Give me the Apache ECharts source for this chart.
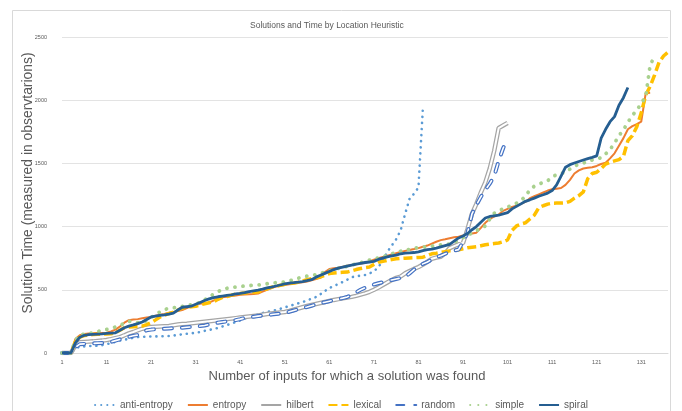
<!DOCTYPE html>
<html>
<head>
<meta charset="utf-8">
<script src="https://cdn.jsdelivr.net/npm/echarts/dist/echarts.min.js"></script>
<style>
html,body{margin:0;padding:0;background:#fff;}
#chart{width:682px;height:411px;}
</style>
</head>
<body>
<div id="chart"></div>
<script>
const categories = Array.from({length: 137}, (_, i) => String(i + 1));
const yTicks = [0, 500, 1000, 1500, 2000, 2500];

const antiEntropy = [0,0,0,35,50,52,55,55,58,62,
70,78,88,98,105,112,120,126,128,130,
130,131,132,133,135,138,142,148,152,156,
160,166,175,182,190,198,210,221,232,245,
258,272,285,295,306,316,324,332,340,350,
361,372,382,393,403,416,430,443,465,490,
514,530,546,562,580,600,607,612,617,630,
645,680,730,800,850,900,970,1100,1220,1260,
1310,1945];

const hilbert = [0,0,0,60,85,88,90,92,95,98,
103,110,118,126,140,155,166,180,192,200,
205,208,210,212,214,220,225,229,232,236,
240,244,248,252,256,260,264,268,272,276,
280,284,288,292,296,302,308,312,316,320,
324,332,342,352,362,372,380,388,396,404,
412,420,426,432,438,444,452,462,472,484,
500,518,538,558,578,594,605,630,648,665,
680,700,722,745,755,762,790,830,845,860,
870,980,1100,1180,1270,1350,1460,1600,1780,1800,1820];

const random = [0,0,0,45,70,72,74,76,78,79,
80,88,98,108,118,128,136,142,160,180,
185,188,190,192,194,196,198,200,204,207,
210,213,218,225,232,240,245,250,255,260,
268,277,282,287,292,297,300,304,308,312,
316,326,336,346,356,364,374,384,394,402,
410,418,426,434,443,460,480,500,516,530,
542,552,560,570,578,586,593,602,630,660,
690,705,720,740,758,770,785,800,810,818,
880,950,1100,1170,1235,1290,1340,1400,1520,1620,1700];

const entropy = [0,0,0,110,140,150,155,157,158,158,
160,170,185,210,240,260,265,268,275,280,
285,295,302,308,318,325,333,340,355,370,
380,390,395,398,415,432,440,445,450,455,
460,462,465,467,470,485,500,514,525,532,
538,543,550,556,560,565,575,585,595,640,
665,670,675,682,690,697,703,708,712,725,
738,750,760,770,780,790,800,808,815,822,
830,840,850,865,880,893,900,908,915,920,
930,938,945,952,990,1030,1060,1080,1095,1125,
1140,1155,1165,1180,1195,1225,1240,1255,1270,1285,
1295,1300,1305,1330,1370,1420,1445,1460,1465,1470,
1480,1495,1505,1540,1580,1640,1700,1770,1795,1810,
1830,2055,2058];

const lexical = [0,0,0,90,125,138,142,146,148,150,
150,152,160,180,200,206,208,210,213,225,
240,262,285,300,312,324,340,356,362,366,
370,380,390,398,405,425,440,447,458,465,
470,474,477,480,483,495,508,520,528,536,
543,548,553,560,570,580,588,595,602,615,
628,633,636,638,640,650,660,668,675,680,
700,718,725,733,740,745,748,750,752,754,
756,758,770,785,790,796,802,808,812,816,
825,832,836,840,848,856,862,866,870,880,
895,970,1005,1020,1030,1060,1090,1150,1165,1178,
1185,1186,1186,1188,1200,1225,1245,1275,1380,1420,
1430,1460,1495,1510,1520,1530,1555,1680,1720,1790,
1900,2040,2110,2200,2300,2350,2380];

const simple = [0,0,0,100,140,150,155,160,170,178,
186,195,205,218,235,250,248,240,245,255,
280,305,325,345,352,358,363,368,375,382,
390,400,420,443,465,485,500,512,518,522,
526,530,533,536,538,542,548,553,556,558,
561,570,580,592,600,608,615,620,630,640,
650,660,670,678,686,695,705,715,722,735,
745,752,760,772,785,795,805,812,820,828,
835,838,840,845,852,856,860,862,875,895,
912,930,950,968,985,1005,1060,1105,1125,1140,
1155,1170,1185,1205,1240,1290,1320,1335,1350,1362,
1395,1410,1420,1430,1455,1480,1492,1503,1515,1527,
1535,1545,1575,1610,1660,1720,1765,1825,1880,1920,
1975,2030,2280,2345];

const spiral = [0,0,0,80,125,140,145,148,150,152,
155,158,160,180,200,213,222,232,245,265,
285,292,298,302,308,316,340,362,366,370,
385,400,415,428,438,445,450,455,460,467,
472,478,486,492,498,506,515,522,530,538,
546,553,556,560,565,572,580,600,615,630,
645,660,672,680,688,696,704,710,716,720,
725,740,750,760,768,775,785,790,792,795,
800,810,818,822,830,840,850,860,885,910,
925,945,975,1000,1035,1068,1080,1085,1090,1100,
1110,1140,1160,1180,1200,1212,1225,1240,1252,1265,
1285,1330,1400,1470,1490,1503,1515,1527,1538,1548,
1560,1700,1770,1830,1870,1960,2020,2100];

const seriesNames = ['anti-entropy','entropy','hilbert','lexical','random','simple','spiral'];

const FONT = 'Liberation Sans';
const TXT = '#595959';

function line(name, data, ls) {
  return {
    name: name, type: 'line', data: data, symbol: 'none', showSymbol: false,
    smooth: false, animation: false, silent: true,
    itemStyle: {color: ls.color, opacity: 0},
    lineStyle: ls
  };
}

const chart = echarts.init(document.getElementById('chart'), null, {renderer: 'canvas'});
chart.setOption({
  animation: false,
  backgroundColor: '#fff',
  graphic: [{
    type: 'rect', silent: true, z: -10,
    shape: {x: 12.5, y: 10.5, width: 658, height: 420},
    style: {fill: 'none', stroke: '#D9D9D9', lineWidth: 1}
  }],
  title: {
    text: 'Solutions and Time by Location Heuristic',
    left: 245, top: 16,
    textStyle: {fontFamily: FONT, fontSize: 8.5, fontWeight: 'normal', color: TXT}
  },
  legend: {
    data: seriesNames,
    left: 'center', top: 395,
    itemWidth: 20, itemHeight: 10, itemGap: 14,
    textStyle: {fontFamily: FONT, fontSize: 10, color: TXT}
  },
  grid: {left: 62, right: 14, top: 37, bottom: 58, containLabel: false},
  xAxis: {
    type: 'category', data: categories, boundaryGap: false,
    name: 'Number of inputs for which a solution was found',
    nameLocation: 'middle', nameGap: 17, nameMoveOverlap: false,
    nameTextStyle: {fontFamily: FONT, fontSize: 13, color: TXT, padding: [0, 36, 0, 0]},
    axisLine: {lineStyle: {color: '#D9D9D9'}},
    axisTick: {show: false},
    axisLabel: {interval: 9, fontFamily: FONT, fontSize: 5.5, color: TXT, margin: 6}
  },
  yAxis: {
    type: 'value', min: yTicks[0], max: yTicks[yTicks.length - 1], interval: 500,
    name: 'Solution Time (measured in observtarions)',
    nameLocation: 'middle', nameGap: 27, nameRotate: 90, nameMoveOverlap: false,
    nameTextStyle: {fontFamily: FONT, fontSize: 13.9, color: TXT, padding: [0, 0, 0, 24]},
    axisLine: {show: false}, axisTick: {show: false},
    axisLabel: {fontFamily: FONT, fontSize: 5.5, color: TXT, margin: 15, formatter: v => String(v)},
    splitLine: {lineStyle: {color: '#E3E3E3', width: 1}}
  },
  series: [
    line('anti-entropy', antiEntropy, {color: '#5B9BD5', width: 2.6, type: [0.1, 6], cap: 'round'}),
    line('entropy', entropy, {color: '#ED7D31', width: 2}),
    line('hilbert', hilbert, {color: '#A5A5A5', width: 4.5}),
    line('hilbert-inner', hilbert, {color: '#FFFFFF', width: 2}),
    line('lexical', lexical, {color: '#FFC000', width: 3.5, type: [9, 4], cap: 'butt'}),
    line('random', random, {color: '#4472C4', width: 4, type: [8, 10], cap: 'round'}),
    line('random-inner', random, {color: '#FFFFFF', width: 1.6, type: [8, 10], cap: 'round'}),
    line('simple', simple, {color: '#A9D18E', width: 3.8, type: [0.1, 8], cap: 'round'}),
    line('spiral', spiral, {color: '#255E91', width: 2.8})
  ]
});
</script>
</body>
</html>
